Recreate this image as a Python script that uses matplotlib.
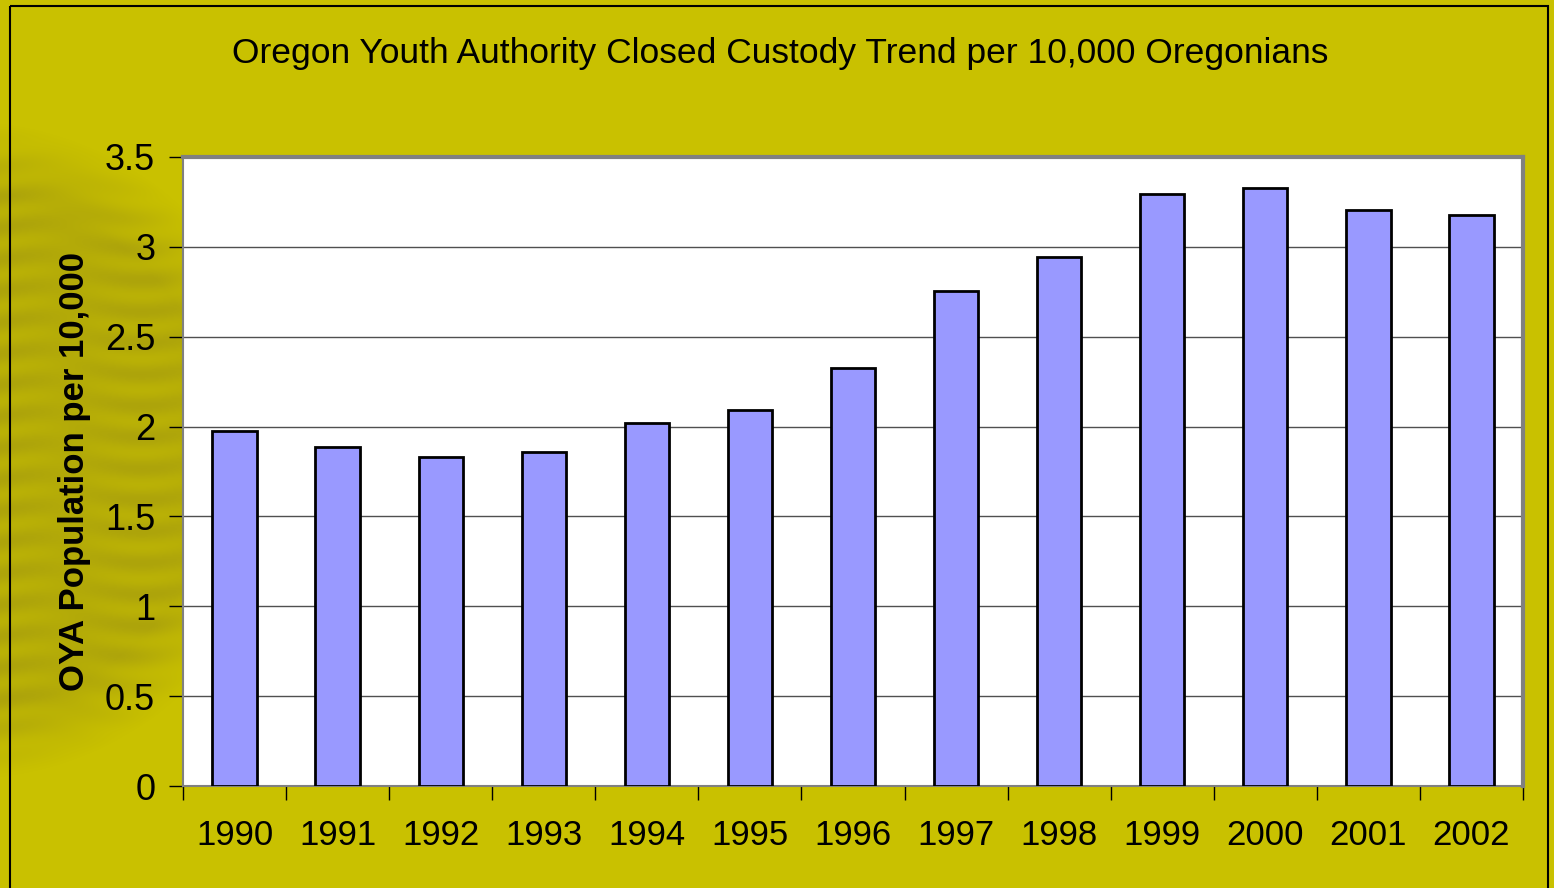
import numpy as np
import matplotlib
matplotlib.use("Agg")
import matplotlib.pyplot as plt
from matplotlib.patches import Rectangle

plt.rcParams['font.family'] = ['Liberation Sans', 'DejaVu Sans']

years = ['1990', '1991', '1992', '1993', '1994', '1995', '1996',
         '1997', '1998', '1999', '2000', '2001', '2002']
rates = [1.975, 1.886, 1.831, 1.859, 2.020, 2.092, 2.326,
         2.755, 2.944, 3.294, 3.328, 3.205, 3.178]

bg = '#c9c100'
fig = plt.figure(figsize=(15.54, 8.88), dpi=100, facecolor=bg)

# faint blurred ball on the left side of the background
bgax = fig.add_axes([0, 0, 1, 1], zorder=0)
bgax.set_xlim(0, 1554)
bgax.set_ylim(888, 0)
bgax.axis('off')
yy, xx = np.mgrid[0:888, 0:400]
r = np.sqrt((xx + 40) ** 2 + (yy - 450) ** 2)
mask = np.clip((330 - r) / 70, 0, 1)
streak = 0.5 + 0.5 * np.sin(yy / 5.0 + np.sin(xx / 30.0)) * np.cos(xx / 45.0)
alpha = mask * (0.3 + 0.25 * streak)
img = np.zeros((888, 400, 4))
img[..., 0] = 150 / 255
img[..., 1] = 140 / 255
img[..., 2] = 20 / 255
img[..., 3] = alpha
bgax.imshow(img, extent=(0, 400, 888, 0), interpolation='bilinear')
bgax.add_patch(Rectangle((10, 6), 1538, 900, fill=False, edgecolor='black', lw=1.5))

ax = fig.add_axes([183 / 1554, 102 / 888, 1340 / 1554, 629 / 888], zorder=1)
ax.set_facecolor('white')
x = np.arange(len(years))
ax.bar(x, rates, width=0.43, color='#9999ff', edgecolor='black', linewidth=2, zorder=3)

ax.set_ylim(0, 3.5)
ax.set_xlim(-0.5, len(years) - 0.5)
ax.set_yticks(np.arange(0, 3.51, 0.5))
ax.set_yticklabels(['0', '0.5', '1', '1.5', '2', '2.5', '3', '3.5'])
ax.yaxis.grid(True, color='#505050', lw=1, zorder=0)

ax.set_xticks(np.arange(-0.5, len(years), 1))
ax.set_xticklabels([])
ax.set_xticks(x, minor=True)
ax.set_xticklabels(years, minor=True)
ax.tick_params(axis='x', which='major', length=10, width=1, direction='out', color='black')
ax.tick_params(axis='x', which='minor', length=0, labelsize=25, pad=24)
ax.tick_params(axis='y', length=10, width=1, direction='out', labelsize=26, pad=10)

for s in ['top', 'right']:
    ax.spines[s].set_color('#808080')
    ax.spines[s].set_linewidth(3)
for s in ['left', 'bottom']:
    ax.spines[s].set_color('#808080')
    ax.spines[s].set_linewidth(1.5)

ax.set_ylabel('OYA Population per 10,000', fontsize=25, fontweight='bold', labelpad=10)
fig.text(780 / 1554, 1 - 54 / 888, 'Oregon Youth Authority Closed Custody Trend per 10,000 Oregonians',
         ha='center', va='center', fontsize=25.5)

fig.savefig('out.png', dpi=100, facecolor=bg)
